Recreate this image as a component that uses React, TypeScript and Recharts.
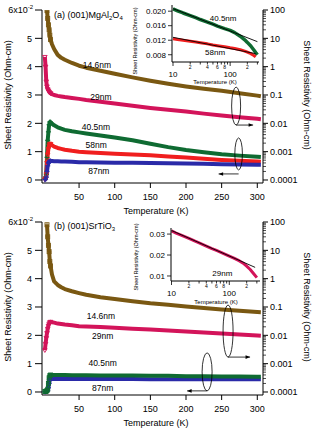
import React from 'react';
import { ComposedChart, LineChart, Line, XAxis, YAxis, ReferenceDot } from 'recharts';

const FONT = '"Liberation Sans", Arial, Helvetica, sans-serif';

// ---------- main panels: temperature (K) ----------
const mainTemps = [2, 3, 4, 5, 6, 7, 8, 9, 10, 12, 15, 20, 25, 30, 40, 50, 60, 80, 100, 125, 150, 175, 200, 225, 250, 275, 300, 305];

// panel (a) (001)MgAl2O4
// 14.6nm and 29nm: Ohm-cm (right, log axis)
const a146 = [null, null, null, 95, 50, 30, 20, 13, 9, 6.2, 4.2, 2.6, 2.05, 1.75, 1.35, 1.08, 0.92, 0.72, 0.56, 0.42, 0.32, 0.25, 0.2, 0.165, 0.14, 0.115, 0.095, 0.09];
const a29 = [2.2, 1.0, 0.3, 0.2, 0.16, 0.145, 0.13, 0.12, 0.115, 0.108, 0.1, 0.093, 0.089, 0.085, 0.079, 0.073, 0.067, 0.058, 0.05, 0.042, 0.035, 0.03, 0.026, 0.022, 0.019, 0.0165, 0.0145, 0.014];
// 40.5nm, 58nm, 87nm: 10^-2 Ohm-cm (left, linear axis)
const a405 = [0.05, 0.1, 0.2, 0.8, 1.4, 1.7, 1.95, 2.05, 2.04, 1.99, 1.93, 1.86, 1.81, 1.77, 1.72, 1.68, 1.64, 1.57, 1.5, 1.4, 1.28, 1.16, 1.06, 0.98, 0.91, 0.86, 0.82, 0.81];
const a58 = [0.02, 0.05, 0.2, 0.6, 0.9, 1.1, 1.22, 1.28, 1.27, 1.23, 1.18, 1.13, 1.1, 1.07, 1.03, 1.0, 0.98, 0.95, 0.93, 0.9, 0.87, 0.83, 0.79, 0.75, 0.71, 0.68, 0.65, 0.64];
const a87 = [0.01, 0.03, 0.1, 0.3, 0.5, 0.6, 0.65, 0.67, 0.67, 0.67, 0.66, 0.66, 0.65, 0.65, 0.64, 0.63, 0.63, 0.62, 0.61, 0.61, 0.6, 0.59, 0.58, 0.57, 0.56, 0.55, 0.54, 0.54];

// panel (b) (001)SrTiO3
const b146 = [null, null, null, 80, 30, 15, 9, 4, 2.8, 1.4, 0.8, 0.6, 0.5, 0.43, 0.36, 0.31, 0.27, 0.22, 0.19, 0.16, 0.135, 0.12, 0.105, 0.092, 0.082, 0.073, 0.066, 0.065];
const b29 = [0.003, 0.005, 0.008, 0.012, 0.017, 0.022, 0.026, 0.029, 0.03, 0.029, 0.028, 0.026, 0.025, 0.024, 0.0225, 0.021, 0.0205, 0.0195, 0.0185, 0.0172, 0.016, 0.0148, 0.0136, 0.0125, 0.0115, 0.0106, 0.0098, 0.0096];
const b405 = [0.02, 0.02, 0.03, 0.05, 0.1, 0.3, 0.5, 0.58, 0.6, 0.6, 0.6, 0.6, 0.6, 0.6, 0.59, 0.59, 0.59, 0.58, 0.58, 0.58, 0.57, 0.57, 0.56, 0.56, 0.55, 0.55, 0.54, 0.54];
const b87 = [0.01, 0.01, 0.02, 0.03, 0.05, 0.15, 0.3, 0.43, 0.46, 0.46, 0.46, 0.46, 0.46, 0.46, 0.46, 0.46, 0.46, 0.46, 0.46, 0.46, 0.45, 0.45, 0.45, 0.45, 0.45, 0.45, 0.45, 0.45];

// ---------- insets (log T) ----------
const insetTempsA = [10, 12, 15, 20, 25, 30, 40, 50, 60, 80, 100, 120, 150, 180, 200, 230, 260, 280, 300];
const insetA405 = [0.0206, 0.0201, 0.0195, 0.0188, 0.0182, 0.0177, 0.017, 0.0164, 0.0159, 0.0152, 0.0147, 0.0141, 0.0131, 0.0121, 0.0114, 0.0104, 0.0093, 0.0086, 0.008];
const insetA58 = [0.0124, 0.0122, 0.012, 0.0117, 0.0115, 0.0113, 0.011, 0.0107, 0.0105, 0.0102, 0.0099, 0.0097, 0.0094, 0.009, 0.0087, 0.0083, 0.0078, 0.0074, null];
const fitTempsA405 = [10, 300];
const fitA405 = [0.0207, 0.0116];
const fitTempsA58 = [10, 280];
const fitA58 = [0.0128, 0.0083];

const insetTempsB = [10, 12, 15, 20, 25, 30, 40, 50, 60, 80, 100, 120, 150, 180, 200, 230, 260, 300];
const insetB29 = [0.0315, 0.0305, 0.0294, 0.0279, 0.0267, 0.0258, 0.0243, 0.0231, 0.0222, 0.0207, 0.0195, 0.0185, 0.0172, 0.0158, 0.0147, 0.0131, 0.0113, 0.0092];
const fitTempsB29 = [10, 280];
const fitB29 = [0.0317, 0.0141];

// ---------- ticks ----------
const leftTicks = [0, 1, 2, 3, 4, 5, 6];
const xTicks = [50, 100, 150, 200, 250, 300];
const rightMajorTicks = [0.0001, 0.001, 0.01, 0.1, 1, 10, 100];
const rightMajorLabels = ['0.0001', '0.001', '0.01', '0.1', '1', '10', '100'];
const rightMantissas = [2, 3, 4, 5, 6, 7, 8, 9];
const insetXTicks = [10, 20, 30, 40, 50, 60, 70, 80, 90, 100, 200, 300];
const insetXMajorLabels: Record<number, string> = { 10: '10', 100: '100' };
const insetXMinorLabels: Record<number, string> = { 20: '2', 40: '4', 60: '6', 80: '8', 200: '2' };
const insetAYTicks = [0.008, 0.012, 0.016, 0.02];
const insetBYTicks = [0.01, 0.02, 0.03];

const rightTicks: number[] = [...rightMajorTicks];
rightMajorTicks.slice(0, 6).forEach((d) => rightMantissas.forEach((m) => rightTicks.push(+(m * d).toPrecision(3))));
rightTicks.sort((p, q) => p - q);

// ---------- colours ----------
const BROWN = '#7a5812';
const PINK = '#d3145a';
const GREEN = '#0f6b32';
const RED = '#f01e1e';
const BLUE = '#2a2aa8';

const rowsA = mainTemps.map((t, i) => ({ t, s146: a146[i], s29: a29[i], s405: a405[i], s58: a58[i], s87: a87[i] }));
const rowsB = mainTemps.map((t, i) => ({ t, s146: b146[i], s29: b29[i], s405: b405[i], s87: b87[i] }));
const toRows = (ts: number[], vs: (number | null)[]) => ts.map((t, i) => ({ t, v: vs[i] }));

// ---------- tick renderers ----------
const LeftTick = (props: any) => {
  const { x, y, payload } = props;
  const v = payload.value;
  return (
    <g>
      <line x1={x - 7} x2={x} y1={y} y2={y} stroke="#000" strokeWidth={1} />
      {v === 6 ? (
        <text x={x - 9} y={y + 3.2} fontSize={9} textAnchor="end" fontFamily={FONT} fill="#000">
          6x10<tspan fontSize={6} dy={-4}>-2</tspan>
        </text>
      ) : (
        <text x={x - 10} y={y + 3.2} fontSize={9} textAnchor="end" fontFamily={FONT} fill="#000">{v}</text>
      )}
    </g>
  );
};

const RightTick = (props: any) => {
  const { x, y, payload } = props;
  const v = payload.value;
  const idx = rightMajorTicks.findIndex((m) => Math.abs(m - v) / m < 1e-6);
  const major = idx >= 0;
  return (
    <g>
      <line x1={x} x2={x + (major ? 5 : 3)} y1={y} y2={y} stroke="#000" strokeWidth={major ? 1 : 0.7} />
      {major && (
        <text x={x + 7} y={y + 3.2} fontSize={9} textAnchor="start" fontFamily={FONT} fill="#000">{rightMajorLabels[idx]}</text>
      )}
    </g>
  );
};

const XTick = (props: any) => {
  const { x, y, payload } = props;
  return (
    <g>
      <line x1={x} x2={x} y1={y} y2={y + 5} stroke="#000" strokeWidth={1} />
      <text x={x} y={y + 16.5} fontSize={9} textAnchor="middle" fontFamily={FONT} fill="#000">{payload.value}</text>
    </g>
  );
};

const InsetXTick = (props: any) => {
  const { x, y, payload } = props;
  const v = payload.value;
  const maj = insetXMajorLabels[v];
  const min = insetXMinorLabels[v];
  return (
    <g>
      <line x1={x} x2={x} y1={y} y2={y + (maj ? 4 : 2.5)} stroke="#000" strokeWidth={0.8} />
      {maj && <text x={x} y={y + 14.5} fontSize={8} textAnchor="middle" fontFamily={FONT} fill="#000">{maj}</text>}
      {min && <text x={x} y={y + 7} fontSize={5} textAnchor="middle" fontFamily={FONT} fill="#000">{min}</text>}
    </g>
  );
};

const makeInsetYTick = (digits: number) => (props: any) => {
  const { x, y, payload } = props;
  return (
    <g>
      <line x1={x - 4} x2={x} y1={y} y2={y} stroke="#000" strokeWidth={0.8} />
      <text x={x - 6} y={y + 2.8} fontSize={8} textAnchor="end" fontFamily={FONT} fill="#000">{payload.value.toFixed(digits)}</text>
    </g>
  );
};

// ---------- marker renderers (only sparse low-temperature points show distinct markers) ----------
const squareDot = (color: string) => (p: any) => {
  const { cx, cy, payload, index } = p;
  if (cx == null || cy == null || payload == null || payload.t > 10 || !isFinite(cy)) return <g key={'d' + index} />;
  return (
    <g key={'d' + index}>
      <rect x={cx - 2} y={cy - 2} width={4} height={4} fill="none" stroke={color} strokeWidth={0.9} />
      <line x1={cx - 2} x2={cx + 2} y1={cy} y2={cy} stroke={color} strokeWidth={0.8} />
      <line x1={cx} x2={cx} y1={cy - 2} y2={cy + 2} stroke={color} strokeWidth={0.8} />
    </g>
  );
};
const triDot = (color: string) => (p: any) => {
  const { cx, cy, payload, index } = p;
  if (cx == null || cy == null || payload == null || payload.t > 10 || !isFinite(cy)) return <g key={'d' + index} />;
  return (
    <polygon key={'d' + index} points={`${cx - 2.3},${cy - 1.5} ${cx + 2.3},${cy - 1.5} ${cx},${cy + 2.3}`}
      fill="none" stroke={color} strokeWidth={0.9} />
  );
};
const plusDot = (color: string) => (p: any) => {
  const { cx, cy, payload, index } = p;
  if (cx == null || cy == null || payload == null || payload.t > 10 || !isFinite(cy)) return <g key={'d' + index} />;
  return (
    <g key={'d' + index}>
      <line x1={cx - 2.5} x2={cx + 2.5} y1={cy} y2={cy} stroke={color} strokeWidth={1.2} />
      <line x1={cx} x2={cx} y1={cy - 2.5} y2={cy + 2.5} stroke={color} strokeWidth={1.2} />
    </g>
  );
};

// ---------- annotation shapes ----------
const textShape = (label: string, size: number) => (p: any) => (
  <text x={p.cx} y={p.cy + size * 0.35} fontSize={size} textAnchor="middle" fontFamily={FONT} fill="#000">{label}</text>
);

const ellipseShape = (rx: number, ry: number, arrowDy: number, dir: number, len: number) => (p: any) => {
  const { cx, cy } = p;
  const ay = cy + arrowDy;
  const ex = cx + dir * len;
  return (
    <g>
      <ellipse cx={cx} cy={cy} rx={rx} ry={ry} fill="none" stroke="#000" strokeWidth={0.8} />
      <line x1={cx} y1={ay} x2={ex} y2={ay} stroke="#000" strokeWidth={0.8} />
      <polygon points={`${ex},${ay} ${ex - dir * 4.5},${ay - 1.8} ${ex - dir * 4.5},${ay + 1.8}`} fill="#000" />
    </g>
  );
};

type Lbl = { text: string; t: number; v: number };
type Ell = { t: number; v: number; rx: number; ry: number; ady: number; dir: number; len: number };

const labelsA: Lbl[] = [
  { text: '14.6nm', t: 75, v: 4.06 },
  { text: '29nm', t: 80.6, v: 2.94 },
  { text: '40.5nm', t: 73.6, v: 1.87 },
  { text: '58nm', t: 74, v: 1.24 },
  { text: '87nm', t: 77.7, v: 0.32 },
];
const labelsB: Lbl[] = [
  { text: '14.6nm', t: 80.6, v: 2.68 },
  { text: '29nm', t: 83, v: 1.98 },
  { text: '40.5nm', t: 83, v: 1.02 },
  { text: '87nm', t: 83, v: 0.14 },
];
const ellipsesA: Ell[] = [
  { t: 270.3, v: 2.61, rx: 4.5, ry: 19, ady: 19, dir: 1, len: 17 },
  { t: 273.8, v: 0.92, rx: 3.8, ry: 16, ady: 20, dir: -1, len: 20 },
];
const ellipsesB: Ell[] = [
  { t: 259, v: 2.15, rx: 5, ry: 26, ady: 26, dir: 1, len: 22 },
  { t: 229.6, v: 0.71, rx: 5, ry: 19, ady: 19, dir: -1, len: 20 },
];

type Ser = { key: string; axis: 'l' | 'r'; color: string; dot: (c: string) => (p: any) => any };
const seriesA: Ser[] = [
  { key: 's146', axis: 'r', color: BROWN, dot: squareDot },
  { key: 's29', axis: 'r', color: PINK, dot: triDot },
  { key: 's405', axis: 'l', color: GREEN, dot: plusDot },
  { key: 's58', axis: 'l', color: RED, dot: triDot },
  { key: 's87', axis: 'l', color: BLUE, dot: plusDot },
];
const seriesB: Ser[] = [
  { key: 's146', axis: 'r', color: BROWN, dot: squareDot },
  { key: 's29', axis: 'r', color: PINK, dot: triDot },
  { key: 's87', axis: 'l', color: BLUE, dot: plusDot },
  { key: 's405', axis: 'l', color: GREEN, dot: squareDot },
];

function MainPanel({ rows, series, labels, ellipses }: { rows: any[]; series: Ser[]; labels: Lbl[]; ellipses: Ell[] }) {
  return (
    <ComposedChart width={315} height={212} data={rows} margin={{ top: 10, right: 0, bottom: 0, left: 0 }}>
      <XAxis dataKey="t" type="number" domain={[-2, 308]} ticks={xTicks} allowDataOverflow interval={0}
        tickSize={0} tickMargin={0} tickLine={false} tick={XTick} height={29} stroke="#000" />
      <YAxis yAxisId="l" type="number" domain={[-0.106, 6]} ticks={leftTicks} allowDataOverflow interval={0}
        width={42} tickSize={0} tickMargin={0} tickLine={false} tick={LeftTick} stroke="#000" />
      <YAxis yAxisId="r" orientation="right" type="number" scale="log" domain={[7.83e-5, 100]} ticks={rightTicks}
        allowDataOverflow interval={0} width={52} tickSize={0} tickMargin={0} tickLine={false} tick={RightTick} stroke="#000" />
      {series.map((s) => (
        <Line key={s.key} yAxisId={s.axis} dataKey={s.key} type="linear" stroke={s.color} strokeWidth={4}
          strokeLinejoin="round" dot={s.dot(s.color)} activeDot={false} isAnimationActive={false} />
      ))}
      {labels.map((l) => (
        <ReferenceDot key={l.text} yAxisId="l" x={l.t} y={l.v} r={0} ifOverflow="visible" shape={textShape(l.text, 8.5)} />
      ))}
      {ellipses.map((e, i) => (
        <ReferenceDot key={'e' + i} yAxisId="l" x={e.t} y={e.v} r={0} ifOverflow="visible"
          shape={ellipseShape(e.rx, e.ry, e.ady, e.dir, e.len)} />
      ))}
    </ComposedChart>
  );
}

const insetLine = (rows: any[], color: string, w: number, key: string) => (
  <Line key={key} data={rows} dataKey="v" type="linear" stroke={color} strokeWidth={w} dot={false}
    activeDot={false} isAnimationActive={false} strokeLinejoin="round" />
);

export default function App() {
  const ax = { fontFamily: FONT, fill: '#000' } as const;
  return (
    <div style={{ position: 'absolute', left: 0, top: 0, width: 315, height: 430, background: '#fff', overflow: 'hidden' }}>
      <div style={{ position: 'absolute', left: 0, top: 0 }}>
        <MainPanel rows={rowsA} series={seriesA} labels={labelsA} ellipses={ellipsesA} />
      </div>
      <div style={{ position: 'absolute', left: 0, top: 212 }}>
        <MainPanel rows={rowsB} series={seriesB} labels={labelsB} ellipses={ellipsesB} />
      </div>

      {/* inset (a) */}
      <div style={{ position: 'absolute', left: 130, top: 0 }}>
        <LineChart width={135} height={90} margin={{ top: 5, right: 6, bottom: 0, left: 0 }}>
          <XAxis dataKey="t" type="number" scale="log" domain={[9.6, 320]} ticks={insetXTicks} allowDataOverflow interval={0}
            tickSize={0} tickMargin={0} tickLine={false} tick={InsetXTick} height={28} stroke="#000" />
          <YAxis type="number" domain={[0.006, 0.0217]} ticks={insetAYTicks} allowDataOverflow interval={0}
            width={42} tickSize={0} tickMargin={0} tickLine={false} tick={makeInsetYTick(3)} stroke="#000" />
          {insetLine(toRows(insetTempsA, insetA405), GREEN, 3.5, 'g')}
          {insetLine(toRows(insetTempsA, insetA58), RED, 3, 'r')}
          {insetLine(toRows(fitTempsA405, fitA405), '#000', 0.9, 'fg')}
          {insetLine(toRows(fitTempsA58, fitA58), '#000', 0.9, 'fr')}
          <ReferenceDot x={75.4} y={0.0181} r={0} ifOverflow="visible" shape={textShape('40.5nm', 8)} />
          <ReferenceDot x={54.6} y={0.0088} r={0} ifOverflow="visible" shape={textShape('58nm', 8)} />
        </LineChart>
      </div>

      {/* inset (b) */}
      <div style={{ position: 'absolute', left: 129, top: 222 }}>
        <LineChart width={137} height={87} margin={{ top: 6, right: 6, bottom: 0, left: 0 }}>
          <XAxis dataKey="t" type="number" scale="log" domain={[9.8, 340]} ticks={insetXTicks} allowDataOverflow interval={0}
            tickSize={0} tickMargin={0} tickLine={false} tick={InsetXTick} height={28} stroke="#000" />
          <YAxis type="number" domain={[0.0076, 0.0329]} ticks={insetBYTicks} allowDataOverflow interval={0}
            width={42} tickSize={0} tickMargin={0} tickLine={false} tick={makeInsetYTick(2)} stroke="#000" />
          {insetLine(toRows(insetTempsB, insetB29), PINK, 3, 'p')}
          {insetLine(toRows(fitTempsB29, fitB29), '#000', 0.9, 'fp')}
          <ReferenceDot x={75.8} y={0.0114} r={0} ifOverflow="visible" shape={textShape('29nm', 8)} />
        </LineChart>
      </div>

      {/* titles */}
      <svg width={315} height={430} style={{ position: 'absolute', left: 0, top: 0, pointerEvents: 'none' }}>
        <text x={54} y={18} fontSize={9} {...ax}>
          (a) (001)MgAl<tspan fontSize={6} dy={2}>2</tspan><tspan dy={-2}>O</tspan><tspan fontSize={6} dy={2}>4</tspan>
        </text>
        <text x={54} y={229} fontSize={9} {...ax}>
          (b) (001)SrTiO<tspan fontSize={6} dy={2}>3</tspan>
        </text>

        <text x={156} y={214} fontSize={9} textAnchor="middle" {...ax}>Temperature (K)</text>
        <text x={156} y={426} fontSize={9} textAnchor="middle" {...ax}>Temperature (K)</text>

        <text transform="translate(11,95) rotate(-90)" fontSize={9} textAnchor="middle" {...ax}>Sheet Resistivity (Ohm-cm)</text>
        <text transform="translate(11,307) rotate(-90)" fontSize={9} textAnchor="middle" {...ax}>Sheet Resistivity (Ohm-cm)</text>
        <text transform="translate(304,95) rotate(90)" fontSize={9} textAnchor="middle" {...ax}>Sheet Resistivity (Ohm-cm)</text>
        <text transform="translate(304,307) rotate(90)" fontSize={9} textAnchor="middle" {...ax}>Sheet Resistivity (Ohm-cm)</text>

        <text transform="translate(137,41) rotate(-90)" fontSize={5.5} textAnchor="middle" {...ax}>Sheet Resistivity (Ohm-cm)</text>
        <text transform="translate(138,257) rotate(-90)" fontSize={5.5} textAnchor="middle" {...ax}>Sheet Resistivity (Ohm-cm)</text>
        <text x={215} y={84} fontSize={6} textAnchor="middle" {...ax}>Temperature (K)</text>
        <text x={216} y={304} fontSize={6} textAnchor="middle" {...ax}>Temperature (K)</text>
      </svg>
    </div>
  );
}
